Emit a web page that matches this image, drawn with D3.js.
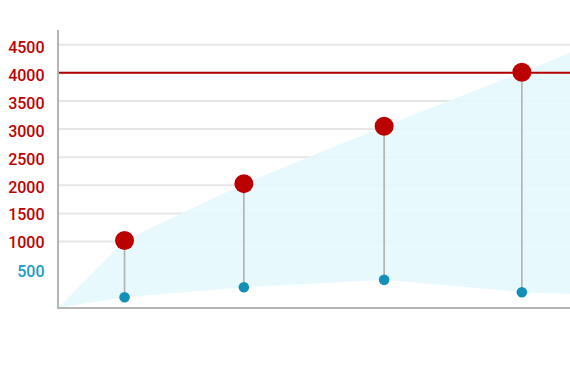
<!DOCTYPE html>
<html><head><meta charset="utf-8">
<script src="https://cdn.jsdelivr.net/npm/d3@7"></script>
<style>body{margin:0;background:#fff}svg{display:block}</style>
</head><body>
<svg id="c" width="570" height="380"></svg>
<script>
const xVals = [1.3, 3.63, 6.37, 9.06];
const redVals = [1020, 2030, 3050, 4010];
const blueVals = [12, 190, 320, 101];
const bandStart = [-180, -180]; // [low, high] at left edge
const bandEnd = [70, 4355];     // [low, high] at right edge
const redTicks = [1000, 1500, 2000, 2500, 3000, 3500, 4000, 4500];
const blueTicks = [500];
const targetValue = 4000;

const svg = d3.select("#c");
const L = 58, R = 570, T = 30, B = 308;
const x = d3.scaleLinear().domain([0, 10]).range([L, R]);
const y = d3.scaleLinear().domain([-180, 4760]).range([B, T]);
// label axis (slightly different spacing in reference)
const yLab = d3.scaleLinear().domain([1000, 4500]).range([248.3, 53.3]);

// gridlines
svg.append("g").selectAll("line").data(redTicks).join("line")
  .attr("x1", L).attr("x2", R).attr("y1", d => y(d)).attr("y2", d => y(d))
  .attr("stroke", "#e6e6e6").attr("stroke-width", 2);

// band area
const band = [{x: 0, lo: bandStart[0], hi: bandStart[1]}]
  .concat(xVals.map((v, i) => ({x: v, lo: blueVals[i], hi: redVals[i]})));
band.push({x: 10, lo: bandEnd[0], hi: bandEnd[1]});
svg.append("path").datum(band)
  .attr("d", d3.area().x(d => x(d.x)).y0(d => y(d.lo)).y1(d => y(d.hi)))
  .attr("fill", "#e5f8fd").attr("fill-opacity", 0.9);

// target line
svg.append("line").attr("x1", L).attr("x2", R)
  .attr("y1", y(targetValue)).attr("y2", y(targetValue))
  .attr("stroke", "#b50000").attr("stroke-width", 2);

// axes
svg.append("line").attr("x1", L).attr("x2", L).attr("y1", T).attr("y2", B + 1)
  .attr("stroke", "#b4b4b4").attr("stroke-width", 2);
svg.append("line").attr("x1", L - 1).attr("x2", R).attr("y1", B).attr("y2", B)
  .attr("stroke", "#b4b4b4").attr("stroke-width", 2);

// tick labels
const lab = svg.append("g").attr("font-family", "Roboto, sans-serif")
  .attr("font-size", 16).attr("font-weight", 500).attr("text-anchor", "end");
lab.selectAll("text.r").data(redTicks).join("text").attr("class", "r")
  .attr("x", 44.5).attr("y", d => yLab(d))
  .attr("fill", "#c00000").text(d => d);
lab.selectAll("text.b").data(blueTicks).join("text").attr("class", "b")
  .attr("x", 44.5).attr("y", d => y(d) + 7)
  .attr("fill", "#1a9cc6").text(d => d);

// stems
svg.append("g").selectAll("line").data(xVals).join("line")
  .attr("x1", d => x(d)).attr("x2", d => x(d))
  .attr("y1", (d, i) => y(redVals[i])).attr("y2", (d, i) => y(blueVals[i]))
  .attr("stroke", "#b0b0b0").attr("stroke-width", 1.6);

// blue dots
svg.append("g").selectAll("circle").data(xVals).join("circle")
  .attr("cx", d => x(d)).attr("cy", (d, i) => y(blueVals[i])).attr("r", 5.3)
  .attr("fill", "#138fb8");

// red dots
svg.append("g").selectAll("circle").data(xVals).join("circle")
  .attr("cx", d => x(d)).attr("cy", (d, i) => y(redVals[i])).attr("r", 9.5)
  .attr("fill", "#bb0000");
</script>
</body></html>
